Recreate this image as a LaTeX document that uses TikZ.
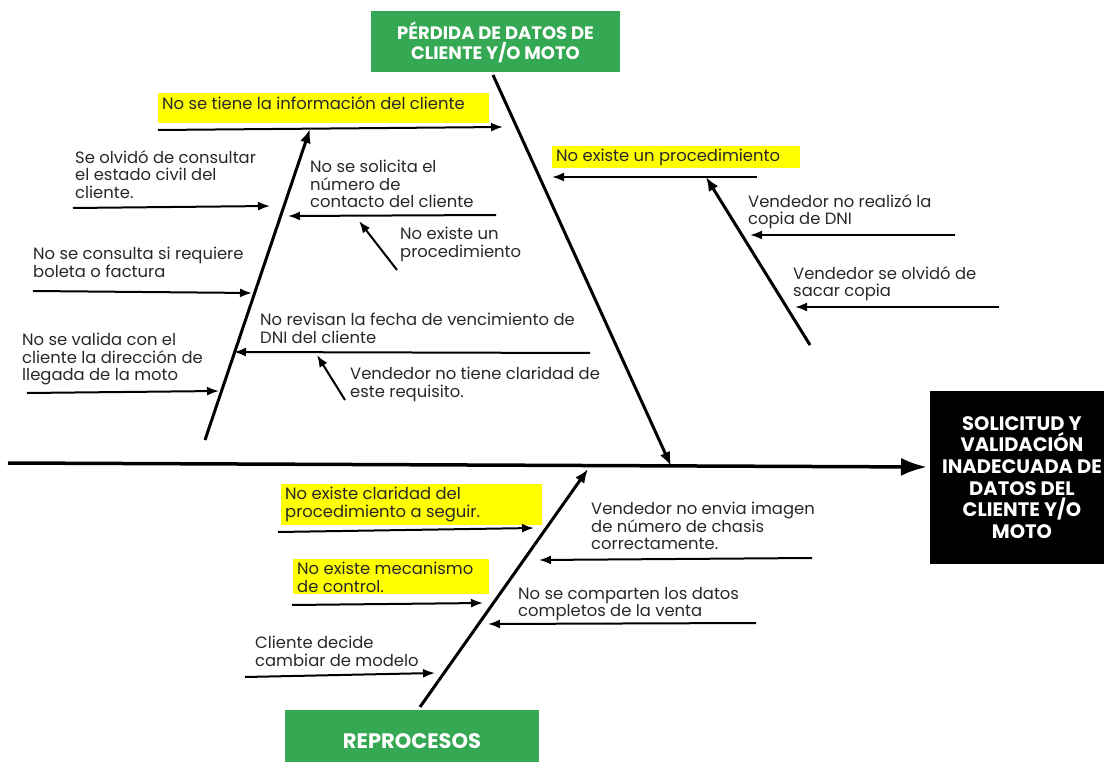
\documentclass[tikz,border=0pt]{standalone}
\usepackage{fontspec}
\setmainfont{Poppins}
\usetikzlibrary{arrows.meta}
\definecolor{boxgreen}{RGB}{52,168,83}
\definecolor{hl}{RGB}{255,255,0}
\definecolor{txtc}{RGB}{40,40,40}
\begin{document}
\begin{tikzpicture}[x=1pt,y=-1pt,
  bone/.style={line width=3pt,-{Latex[length=14pt,width=11pt]}},
  spine/.style={line width=3.5pt,-{Latex[length=26pt,width=18pt]}},
  sub/.style={line width=2pt,-{Latex[length=12pt,width=9pt]}},
  txt/.style={anchor=north west,inner sep=0pt,align=left,text=txtc,font=\fontsize{16.4}{17.5}\selectfont},
  head/.style={fill=boxgreen,text=white,inner sep=0pt,align=center},
  effect/.style={fill=black,text=white,inner sep=0pt,align=center,font=\bfseries\fontsize{19.5}{21.7}\selectfont},
  hlbox/.style={fill=hl}]
\useasboundingbox (0,0) rectangle (1104,762);
% category boxes
\node[head,minimum width=249pt,minimum height=61pt,font=\bfseries\fontsize{18}{20}\selectfont] (ptop) at (495.5,42) {PÉRDIDA DE DATOS DE\\CLIENTE Y/O MOTO};
\node[head,minimum width=254pt,minimum height=62pt,font=\bfseries\fontsize{21}{23}\selectfont] (prep) at (412,741) {REPROCESOS};
\node[effect,minimum width=184pt,minimum height=173pt] (eff) at (1022,477.5) {SOLICITUD Y\\VALIDACIÓN\\INADECUADA DE\\DATOS DEL\\CLIENTE Y/O\\MOTO};
% highlights
\fill[hlbox] (158,93) rectangle (489,123);
\fill[hlbox] (552,146) rectangle (800,168);
\fill[hlbox] (281,484) rectangle (542,525);
\fill[hlbox] (293,559) rectangle (489,594);
% texts
\node[txt] (t1) at (162,96) {No se tiene la información del cliente};
\node[txt] (t2) at (75,150) {Se olvidó de consultar\\el estado civil del\\cliente.};
\node[txt] (t3) at (310,160) {No se solicita el\\número de\\contacto del cliente};
\node[txt] (t4) at (400,227) {No existe un\\procedimiento};
\node[txt] (t5) at (33,247) {No se consulta si requiere\\boleta o factura};
\node[txt] (t6) at (260,313) {No revisan la fecha de vencimiento de\\DNI del cliente};
\node[txt] (t7) at (350,367) {Vendedor no tiene claridad de\\este requisito.};
\node[txt] (t8) at (22,333) {No se valida con el\\cliente la dirección de\\llegada de la moto};
\node[txt] (r1) at (556,149) {No existe un procedimiento};
\node[txt] (r2) at (748,194) {Vendedor no realizó la\\copia de DNI};
\node[txt] (r3) at (793,266) {Vendedor se olvidó de\\sacar copia};
\node[txt] (b1) at (285,487) {No existe claridad del\\procedimiento a seguir.};
\node[txt] (b2) at (297,562) {No existe mecanismo\\de control.};
\node[txt] (b3) at (255,636) {Cliente decide\\cambiar de modelo};
\node[txt] (b4) at (591,502) {Vendedor no envia imagen\\de número de chasis\\correctamente.};
\node[txt] (b5) at (518,587) {No se comparten los datos\\completos de la venta};
% coordinates
\coordinate (sA) at (8,463); \coordinate (sB) at (927,467);
\coordinate (tA) at (493,75); \coordinate (tB) at (671,466);
\coordinate (bA) at (420,707); \coordinate (bB) at (588,469);
\coordinate (lA) at (205,440); \coordinate (lB) at (310,129);
\coordinate (rA) at (810,345); \coordinate (rB) at (706,177);
\coordinate (a1s) at (158,130); \coordinate (a1e) at (503,127);
\coordinate (a2s) at (73,208); \coordinate (a2e) at (270,206);
\coordinate (a3s) at (496,215); \coordinate (a3e) at (288,216);
\coordinate (a4s) at (397,270); \coordinate (a4e) at (359,221);
\coordinate (a5s) at (33,291); \coordinate (a5e) at (252,293);
\coordinate (a6s) at (590,353); \coordinate (a6e) at (234,352);
\coordinate (a7s) at (345,400); \coordinate (a7e) at (317,355);
\coordinate (a8s) at (27,393); \coordinate (a8e) at (219,391);
\coordinate (c1s) at (757,177); \coordinate (c1e) at (552,177);
\coordinate (c2s) at (955,235); \coordinate (c2e) at (750,235);
\coordinate (c3s) at (999,307); \coordinate (c3e) at (795,307);
\coordinate (d1s) at (278,532); \coordinate (d1e) at (534,528);
\coordinate (d2s) at (292,605); \coordinate (d2e) at (483,603);
\coordinate (d3s) at (245,677); \coordinate (d3e) at (435,673);
\coordinate (d4s) at (812,558); \coordinate (d4e) at (539,560);
\coordinate (d5s) at (756,623); \coordinate (d5e) at (488,624);
% bones
\draw[spine] (sA) -- (sB);
\draw[bone] (tA) -- (tB);
\draw[bone] (bA) -- (bB);
\draw[bone] (lA) -- (lB);
\draw[bone] (rA) -- (rB);
% sub arrows
\foreach \p in {a1,a2,a3,a4,a5,a6,a7,a8,c1,c2,c3,d1,d2,d3,d4,d5}
  \draw[sub] (\p s) -- (\p e);
\end{tikzpicture}
\end{document}
